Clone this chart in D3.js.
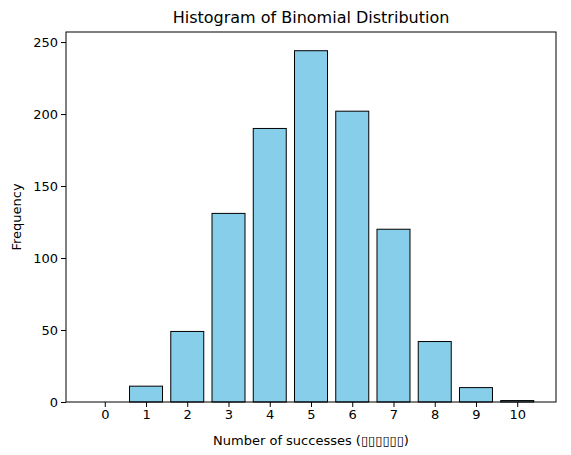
<!DOCTYPE html>
<html><head><meta charset="utf-8">
<script src="https://cdn.jsdelivr.net/npm/d3@7"></script>
<style>body{margin:0;background:#fff}text{font-family:"DejaVu Sans",sans-serif;fill:#000}</style>
</head><body>
<script>
const successes = [0, 1, 2, 3, 4, 5, 6, 7, 8, 9, 10];
const frequency = [0, 11, 49, 131, 190, 244, 202, 120, 42, 10, 1];
const yTicks = [0, 50, 100, 150, 200, 250];

const W = 571, H = 455;
const margin = {top: 32, right: 15, bottom: 53, left: 66};
const width = W - margin.left - margin.right, height = H - margin.top - margin.bottom;

const svg = d3.select("body").append("svg").attr("width", W).attr("height", H);
const g = svg.append("g").attr("transform", "translate(" + margin.left + "," + margin.top + ")");

const x = d3.scaleLinear().domain([-0.94, 10.94]).range([0, width]);
const y = d3.scaleLinear().domain([0, 257]).range([height, 0]);

g.selectAll("rect").data(successes).enter().append("rect")
  .attr("x", d => x(d - 0.4))
  .attr("width", x(0.8) - x(0))
  .attr("y", (d, i) => y(frequency[i]))
  .attr("height", (d, i) => y(0) - y(frequency[i]))
  .attr("fill", "#87ceeb").attr("stroke", "#000").attr("stroke-width", 1);

const xa = g.append("g").attr("transform", "translate(0," + height + ")")
  .call(d3.axisBottom(x).tickValues(successes).tickFormat(d3.format("d")).tickSize(5).tickPadding(3));
const ya = g.append("g").call(d3.axisLeft(y).tickValues(yTicks).tickSize(5).tickPadding(3));
[xa, ya].forEach(a => { a.select(".domain").remove(); a.selectAll("text").style("font-size", "13px").style("font-family", "DejaVu Sans"); });

g.append("rect").attr("width", width).attr("height", height).attr("fill", "none").attr("stroke", "#000").attr("stroke-width", 1);

svg.append("text").attr("x", margin.left + width / 2).attr("y", margin.top - 9)
  .attr("text-anchor", "middle").style("font-size", "16px").text("Histogram of Binomial Distribution");
svg.append("text").attr("x", margin.left + width / 2).attr("y", H - 10)
  .attr("text-anchor", "middle").style("font-size", "13px").text("Number of successes (\u25AF\u25AF\u25AF\u25AF\u25AF\u25AF)");
svg.append("text").attr("transform", "translate(21," + (margin.top + height / 2) + ") rotate(-90)")
  .attr("text-anchor", "middle").style("font-size", "13px").text("Frequency");
</script>
</body></html>
